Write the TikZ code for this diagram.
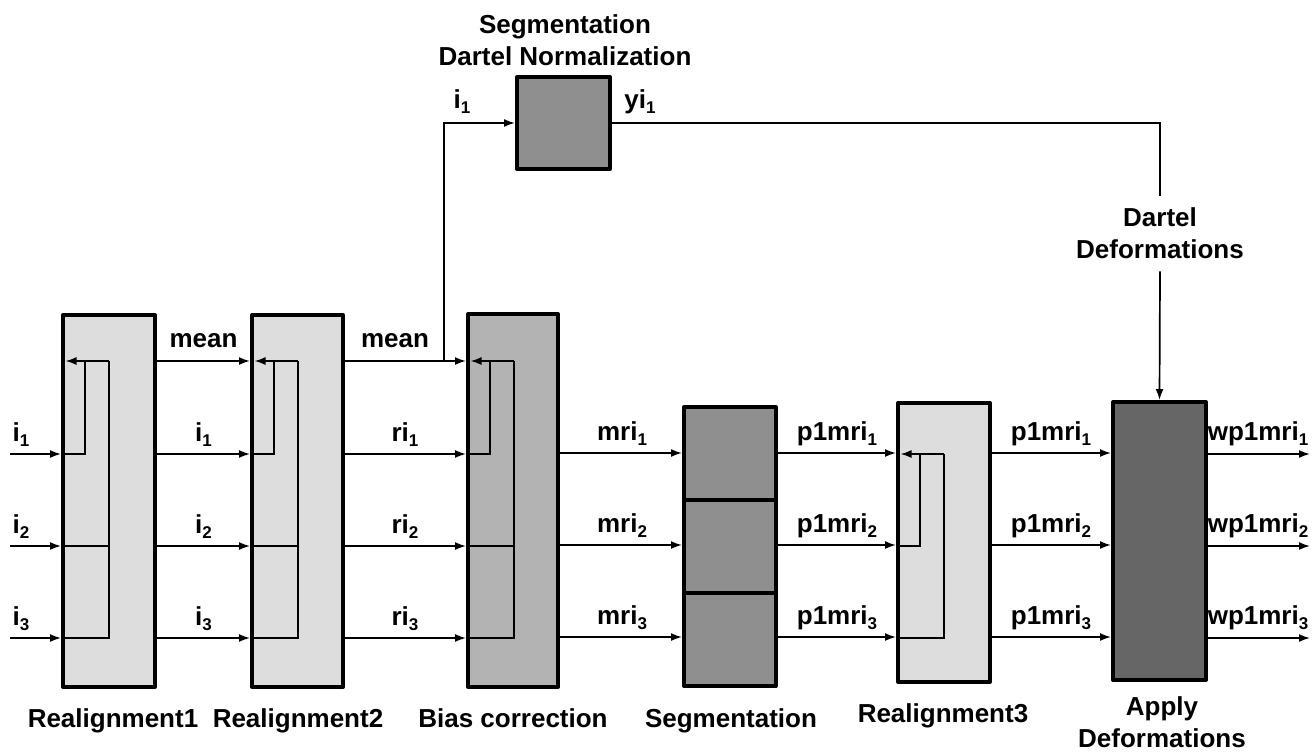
\documentclass[tikz,border=0pt]{standalone}
\usepackage{fontspec}
\setmainfont{Liberation Sans}
\usetikzlibrary{arrows.meta,calc}

\definecolor{stageLight}{RGB}{221,221,221}
\definecolor{stageMid}{RGB}{179,179,179}
\definecolor{stageDark}{RGB}{143,143,143}
\definecolor{stageDeep}{RGB}{102,102,102}

% label with a lowered index, e.g. \lbl{mri}{1}
\newcommand\lbl[2]{#1\raisebox{-5pt}{\fontsize{17}{17}\selectfont #2}}

% feedback wiring drawn inside a realignment block:
% #1 node, #2 y of the reference row at the top
\newcommand\loopback[2]{%
  \draw[arr] ($(#1.west |- 0,#2)+(48,0)$) -- ($(#1.west |- 0,#2)+(4.5,0)$);
  \draw[wire] (#1.west |- 0,454) -| ($(#1.west |- 0,#2)+(24,0)$);
  \draw[wire] (#1.west |- 0,546) -- ($(#1.west |- 0,546)+(48,0)$);
  \draw[wire] (#1.west |- 0,638) -| ($(#1.west |- 0,#2)+(48,0)$);
}

\begin{document}
\begin{tikzpicture}[x=1pt,y=-1pt,
  every node/.style={font=\fontsize{26}{32}\selectfont\bfseries},
  blk/.style={draw, line width=4pt, line join=round, minimum width=92pt, inner sep=0pt},
  wire/.style={line width=1.7pt},
  arr/.style={wire, -{Latex[length=11pt,width=8pt]}},
  lab/.style={anchor=base, inner sep=0pt},
]
\useasboundingbox (0,0) rectangle (1312,753);

% processing blocks
\node[blk, fill=stageLight, minimum height=372pt] (r1) at (109,501) {};
\node[blk, fill=stageLight, minimum width=91pt, minimum height=372pt] (r2) at (297.5,501) {};
\node[blk, fill=stageMid, minimum width=90pt, minimum height=373pt] (bc) at (513,500.5) {};
\node[blk, fill=stageDark, minimum height=93pt] (s1) at (730,453.5) {};
\node[blk, fill=stageDark, minimum height=93pt] (s2) at (730,546.5) {};
\node[blk, fill=stageDark, minimum height=93pt] (s3) at (730,639.5) {};
\node[blk, fill=stageLight, minimum height=279pt] (r3) at (944,542.5) {};
\node[blk, fill=stageDeep, minimum width=93pt, minimum height=278pt] (ad) at (1159.5,541) {};
\node[blk, fill=stageDark, minimum width=93pt, minimum height=92pt] (top) at (563.5,123) {};

% internal wiring
\loopback{r1}{361}
\loopback{r2}{361}
\loopback{bc}{361}
\draw[arr] ($(r3.west |- 0,454)+(48,0)$) -- ($(r3.west |- 0,454)+(4.5,0)$);
\draw[wire] (r3.west |- 0,546) -| ($(r3.west |- 0,454)+(24,0)$);
\draw[wire] (r3.west |- 0,638) -| ($(r3.west |- 0,454)+(48,0)$);

% free ends
\coordinate (in1) at (10,454);
\coordinate (in2) at (10,546);
\coordinate (in3) at (10,638);
\coordinate (out1) at (1310,454);
\coordinate (out2) at (1310,546);
\coordinate (out3) at (1310,638);
\coordinate (tap) at (444,361);

% inputs
\draw[arr] (in1) -- (r1.west |- in1);
\draw[arr] (in2) -- (r1.west |- in2);
\draw[arr] (in3) -- (r1.west |- in3);

% Realignment1 -> Realignment2
\draw[arr] (r1.east |- 0,361) -- (r2.west |- 0,361);
\draw[arr] (r1.east |- 0,454) -- (r2.west |- 0,454);
\draw[arr] (r1.east |- 0,546) -- (r2.west |- 0,546);
\draw[arr] (r1.east |- 0,638) -- (r2.west |- 0,638);

% Realignment2 -> Bias correction
\draw[arr] (r2.east |- 0,361) -- (bc.west |- 0,361);
\draw[arr] (r2.east |- 0,454) -- (bc.west |- 0,454);
\draw[arr] (r2.east |- 0,546) -- (bc.west |- 0,546);
\draw[arr] (r2.east |- 0,638) -- (bc.west |- 0,638);

% Bias correction -> Segmentation
\draw[arr] (bc.east |- 0,453) -- (s1.west |- 0,453);
\draw[arr] (bc.east |- 0,545) -- (s2.west |- 0,545);
\draw[arr] (bc.east |- 0,637) -- (s3.west |- 0,637);

% Segmentation -> Realignment3
\draw[arr] (s1.east |- 0,453) -- (r3.west |- 0,453);
\draw[arr] (s2.east |- 0,545) -- (r3.west |- 0,545);
\draw[arr] (s3.east |- 0,637) -- (r3.west |- 0,637);

% Realignment3 -> Apply Deformations
\draw[arr] (r3.east |- 0,453) -- (ad.west |- 0,453);
\draw[arr] (r3.east |- 0,545) -- (ad.west |- 0,545);
\draw[arr] (r3.east |- 0,637) -- (ad.west |- 0,637);

% outputs
\draw[arr] (ad.east |- out1) -- (out1);
\draw[arr] (ad.east |- out2) -- (out2);
\draw[arr] (ad.east |- out3) -- (out3);

% Dartel branch
\node[align=center, inner ysep=12pt] (dd) at (1160,233.7) {Dartel\\Deformations};
\draw[arr] (tap) |- (top.west);
\draw[wire] (top.east) -| (dd.north);
\draw[arr] (dd.south) -- (ad.north);

% connector labels
\node[lab] at (21,441) {\lbl{i}{1}};
\node[lab] at (21,533) {\lbl{i}{2}};
\node[lab] at (21,625) {\lbl{i}{3}};

\node[lab] at (203.5,347) {mean};
\node[lab] at (203.5,441) {\lbl{i}{1}};
\node[lab] at (203.5,533) {\lbl{i}{2}};
\node[lab] at (203.5,625) {\lbl{i}{3}};

\node[lab] at (395,347) {mean};
\node[lab] at (405,441) {\lbl{ri}{1}};
\node[lab] at (405,533) {\lbl{ri}{2}};
\node[lab] at (405,625) {\lbl{ri}{3}};

\node[lab] at (622,440) {\lbl{mri}{1}};
\node[lab] at (622,532) {\lbl{mri}{2}};
\node[lab] at (622,624) {\lbl{mri}{3}};

\node[lab] at (837,440) {\lbl{p1mri}{1}};
\node[lab] at (837,532) {\lbl{p1mri}{2}};
\node[lab] at (837,624) {\lbl{p1mri}{3}};

\node[lab] at (1051,440) {\lbl{p1mri}{1}};
\node[lab] at (1051,532) {\lbl{p1mri}{2}};
\node[lab] at (1051,624) {\lbl{p1mri}{3}};

\node[lab] at (1258,440) {\lbl{wp1mri}{1}};
\node[lab] at (1258,532) {\lbl{wp1mri}{2}};
\node[lab] at (1258,624) {\lbl{wp1mri}{3}};

\node[lab] at (462,108) {\lbl{i}{1}};
\node[lab] at (640,108) {\lbl{yi}{1}};

% block titles
\node[align=center] (ttop) at (565,40) {Segmentation\\Dartel Normalization};
\node[lab] (t1) at (113,727) {Realignment1};
\node[lab] (t2) at (298,727) {Realignment2};
\node[lab] (t3) at (513,727) {Bias correction};
\node[lab] (t4) at (731,727) {Segmentation};
\node[lab] (t5) at (943,722) {Realignment3};
\node[align=center] (t6) at (1162,722) {Apply\\Deformations};
\end{tikzpicture}
\end{document}
